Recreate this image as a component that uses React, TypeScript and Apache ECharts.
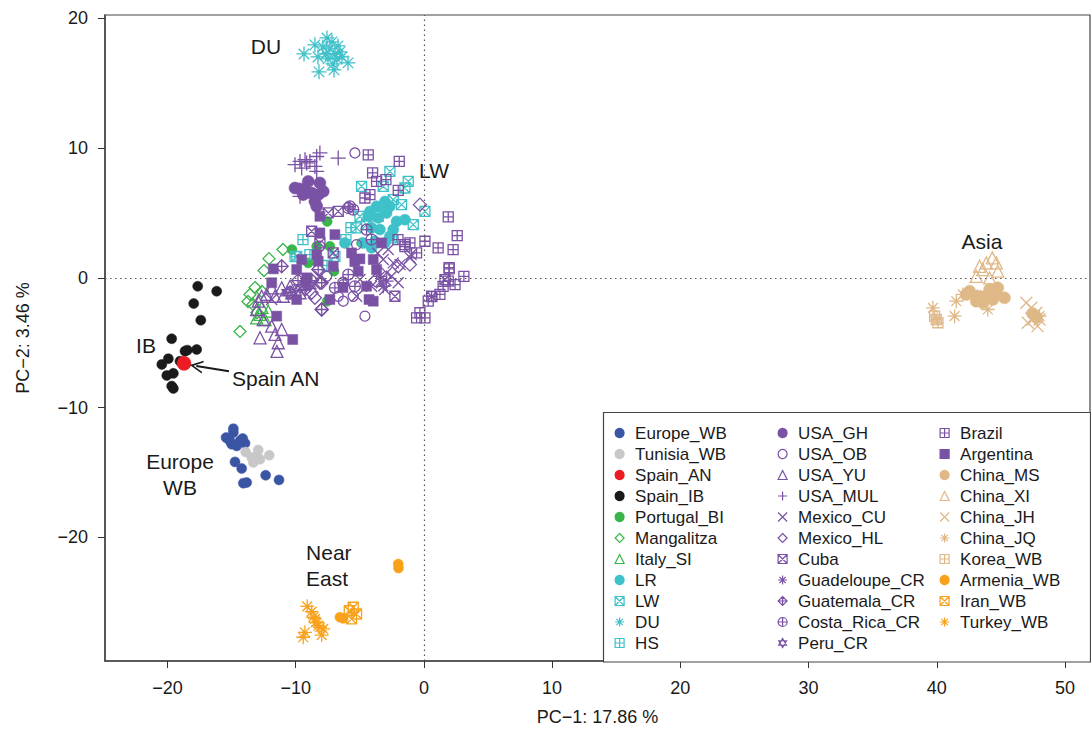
import { useEffect, useRef } from 'react';
import * as echarts from 'echarts';

// ---------- data (PC-1, PC-2) ----------
const europeWB = [[-14.86,-11.62],[-15.43,-12.31],[-14.86,-11.92],[-14.13,-12.38],[-14.99,-12.82],[-14.6,-12.95],[-13.95,-12.75],[-14.73,-14.18],[-14.21,-14.69],[-14.08,-15.82],[-13.82,-15.77],[-12.34,-15.21],[-11.3,-15.57],[-15.12,-12.57],[-14.34,-12.57]];
const tunisiaWB = [[-13.9,-13.42],[-12.92,-13.26],[-13.04,-13.72],[-13.3,-14.23],[-12.06,-13.67],[-13.43,-13.85],[-12.78,-13.98]];
const spainAN = [[-18.71,-6.59]];
const spainIB = [[-17.64,-0.65],[-16.16,-1.03],[-17.95,-1.98],[-17.4,-3.26],[-19.67,-4.69],[-18.45,-5.57],[-17.72,-5.52],[-18.63,-5.65],[-19.93,-6.23],[-20.44,-6.67],[-19.02,-6.42],[-19.54,-7.36],[-20.05,-7.52],[-19.67,-8.34],[-19.54,-8.52]];
const portugalBI = [[-7.54,4.35],[-7.33,2.43],[-9.02,1.15],[-9.2,-0.38],[-7.01,0.51],[-4.86,2.69],[-7.54,-1.8],[-8.36,2.43],[-10.29,2.18]];
const mangalitza = [[-10.99,2.18],[-12.08,1.48],[-12.47,0.56],[-13.17,-0.75],[-13.56,-1.28],[-13.72,-1.82],[-13.33,-2.05],[-13.02,-2.67],[-14.34,-4.13],[-12.63,-1.05]];
const italySI = [[-13.04,-3.08],[-12.39,-3.21],[-12.78,-2.82],[-12.14,-2.57],[-12.63,-2.28]];
const lr = [[-4.21,5.12],[-3.69,5.51],[-3.04,5.89],[-2.65,5.51],[-2.13,4.35],[-1.48,4.48],[-3.56,4.62],[-2.91,5.0],[-4.08,3.85],[-3.43,3.72],[-2.65,3.2],[-3.82,2.82],[-4.73,2.69],[-6.16,2.69],[-4.08,2.31],[-3.04,2.69],[-2.39,3.72],[-4.34,4.74],[-3.17,5.38]];
const lw = [[-2.65,8.2],[-1.22,7.43],[-4.86,7.05],[-3.17,7.05],[-1.48,6.92],[-4.99,4.74],[-3.56,4.74],[-1.74,5.64],[-0.83,4.1],[0.08,5.12],[-5.25,3.85],[-6.94,1.66],[-9.92,1.66],[-2.52,3.08],[-4.47,4.1],[-2.39,6.02]];
const du = [[-9.35,17.25],[-8.5,17.95],[-7.56,18.48],[-8.18,15.87],[-8.26,17.02],[-7.33,17.64],[-6.94,17.25],[-6.55,17.41],[-5.92,16.56],[-7.09,16.48],[-7.48,16.87],[-7.87,17.79],[-6.78,16.87],[-7.17,18.18],[-6.7,17.87],[-7.64,17.25],[-7.01,16.02],[-6.39,17.02]];
const hs = [[-9.43,2.95],[-10.05,1.64],[-6.08,2.95],[-7.56,0.95],[-8.89,1.79],[-5.69,3.87]];
const usaGH = [[-10.05,6.92],[-9.66,6.85],[-9.02,7.43],[-8.11,7.31],[-8.75,6.54],[-8.24,6.41],[-7.85,6.66],[-8.5,5.89],[-8.36,5.51],[-9.14,6.58],[-9.41,6.41]];
const usaOB = [[-5.38,9.62],[-4.6,-2.95],[-6.29,-1.8],[-6.68,-1.42],[-5.51,-1.42],[-5.25,2.56],[-8.11,2.43],[-7.58,0.12],[-6.29,-0.52]];
const usaYU = [[-12.78,-4.62],[-11.61,-4.36],[-11.36,-5.0],[-11.09,-3.98],[-11.87,-3.72],[-12.53,-3.21],[-13.04,-2.44],[-12.26,-1.28],[-11.61,-1.42],[-10.97,-1.42],[-10.31,-1.15],[-12.65,-1.42],[-11.87,-0.77],[-11.09,-0.77],[-10.44,-0.65],[-12.92,-1.8],[-9.66,-1.15],[-11.46,-5.67]];
const usaMUL = [[-10.05,8.72],[-9.66,8.97],[-9.27,9.1],[-8.89,8.97],[-8.36,9.35],[-8.11,9.62],[-8.5,8.58],[-8.36,8.2],[-6.68,9.23],[-9.66,6.28],[-9.14,8.85],[-9.53,8.46]];
const mexicoCU = [[-2.78,2.18],[-3.17,1.41],[-2.39,1.15],[-2.91,0.38],[-3.3,-0.38],[-4.08,-0.65],[-3.04,-0.9],[-2.52,0.12],[-2.0,-0.38],[-5.25,-1.42],[-11.87,-1.67],[-8.11,0.12],[-1.0,1.8],[-3.6,1.9],[-1.86,1.02],[-1.08,1.56],[-4.98,-0.13]];
const mexicoHL = [[-0.31,5.64],[-1.09,1.02],[-2.0,0.89],[-7.97,-2.44],[-8.75,-1.15],[-8.5,-1.54],[-8.11,-0.38],[-3.8,-0.2]];
const cuba = [[-7.46,5.0],[-6.68,5.12],[-8.75,3.59],[-8.11,2.69],[-7.07,1.92],[-2.26,-1.42],[1.64,-0.13],[0.62,-1.44]];
const guadeloupeCR = [[-3.17,-0.65],[-2.91,-0.26],[-3.43,0.12]];
const guatemalaCR = [[-11.09,0.89],[-7.97,-0.38],[-7.97,-2.44],[-8.24,0.64],[-9.27,-0.9],[-9.82,-0.21],[-10.44,-1.13],[-8.73,-0.21]];
const costaRicaCR = [[-5.9,5.38],[-5.51,5.25],[-4.47,3.72],[-4.08,2.95],[-5.9,0.25],[-6.29,-0.38],[-5.38,-0.65],[-6.94,-0.77],[-5.77,5.51]];
const peruCR = [[-10.6,-1.15],[-9.66,-0.75],[-8.89,-0.59]];
const brazil = [[-4.34,9.48],[-1.92,8.97],[-4.0,8.08],[-2.96,7.56],[-2.0,6.74],[-3.69,7.43],[-4.6,6.15],[-4.21,6.41],[1.9,4.69],[2.6,3.25],[2.28,2.18],[1.97,0.69],[3.12,0.12],[1.11,2.31],[0.08,2.82],[-1.09,2.69],[-0.57,1.92],[0.6,-1.42],[1.25,-1.28],[-0.31,-2.69],[-0.57,-3.08],[0.08,-3.08],[0.34,-1.8],[1.9,-0.26],[1.5,-0.65],[-1.48,2.56],[-2.02,2.95],[-1.48,2.41],[1.97,0.79],[2.43,-0.52]];
const argentina = [[-11.74,0.69],[-11.87,-0.38],[-9.92,-1.67],[-9.2,-0.38],[-11.48,-2.95],[-10.23,-4.75],[-8.11,3.46],[-6.94,3.33],[-5.64,1.92],[-4.99,1.46],[-3.95,1.41],[-5.12,0.51],[-3.69,0.64],[-3.3,2.69],[-4.47,-0.65],[-3.95,-1.8],[-7.07,0.89],[-8.36,1.79],[-9.53,1.41],[-9.92,0.64],[-8.11,4.74],[-8.24,1.28],[-9.14,0.0],[-7.33,-1.67],[-6.31,-0.75],[-5.39,1.25],[-4.28,-1.67]];
const chinaMS = [[42.56,-1.03],[43.34,-1.42],[44.12,-0.9],[44.76,-0.77],[45.28,-1.54],[44.37,-1.67],[43.59,-1.92],[43.08,-1.8],[44.64,-1.28],[43.86,-1.42],[42.3,-1.28],[47.47,-2.75],[47.78,-3.05]];
const chinaXI = [[43.34,0.89],[43.86,1.15],[44.33,1.54],[44.64,1.15],[44.76,0.51],[43.08,0.12],[44.12,0.0],[43.59,0.64]];
const chinaJH = [[46.98,-1.92],[47.37,-2.31],[47.76,-2.69],[47.1,-3.46],[48.01,-3.21],[47.49,-3.21],[47.86,-3.72]];
const chinaJQ = [[39.7,-2.31],[41.39,-2.95],[41.52,-1.8],[42.03,-1.28],[43.98,-2.44],[42.81,-1.28],[48.01,-2.95]];
const koreaWB = [[39.96,-3.21],[40.09,-3.46],[39.83,-2.95]];
const armeniaWB = [[-6.55,-26.15],[-6.29,-26.23],[-2.0,-22.05],[-1.98,-22.36]];
const iranWB = [[-5.51,-25.38],[-5.25,-25.9],[-5.64,-26.28],[-5.82,-25.65]];
const turkeyWB = [[-9.1,-25.31],[-8.75,-25.72],[-8.63,-26.15],[-8.42,-26.54],[-8.11,-26.92],[-7.85,-27.05],[-7.97,-27.52],[-9.28,-27.31],[-9.41,-27.69],[-8.24,-26.8],[-8.5,-26.28]];

const xTicks = [-20, -10, 0, 10, 20, 30, 40, 50];
const yTicks = [-20, -10, 0, 10, 20];

const annotations = [
  { text: 'DU', x: -12.31, y: 17.82, align: 'center' },
  { text: 'LW', x: 0.79, y: 8.25, align: 'center' },
  { text: 'Asia', x: 43.52, y: 2.79, align: 'center' },
  { text: 'IB', x: -21.67, y: -5.21, align: 'center' },
  { text: 'Spain AN', x: -14.97, y: -7.75, align: 'left' },
  { text: 'Europe\nWB', x: -19.02, y: -15.13, align: 'center' },
  { text: 'Near\nEast', x: -9.19, y: -22.13, align: 'left' },
];
const arrowFrom = [-15.2, -7.2];
const arrowTo = [-17.75, -6.8];

// ---------- styles ----------
const FONT = 'Liberation Sans, Arial, Helvetica, sans-serif';
const C = {
  blue: '#3a55a4', gray: '#c8c8c8', red: '#ed1c24', black: '#1a1a1a', green: '#3ab54a',
  teal: '#3fc1c9', purple: '#7a52a5', tan: '#dfb887', orange: '#f8a21c',
};
const S = {
  circle: 'circle',
  rect: 'rect',
  tri: 'triangle',
  diamond: 'diamond',
  boxX: 'path://M-1,-1L1,-1L1,1L-1,1ZM-1,-1L1,1M-1,1L1,-1',
  boxPlus: 'path://M-1,-1L1,-1L1,1L-1,1ZM0,-1L0,1M-1,0L1,0',
  plus: 'path://M0,-1L0,1M-1,0L1,0',
  cross: 'path://M-1,-1L1,1M-1,1L1,-1',
  aster: 'path://M0,-1L0,1M-1,0L1,0M-0.7,-0.7L0.7,0.7M-0.7,0.7L0.7,-0.7',
  diamondPlus: 'path://M0,-1L1,0L0,1L-1,0ZM0,-1L0,1M-1,0L1,0',
  circlePlus: 'path://M-1,0A1,1,0,1,1,1,0A1,1,0,1,1,-1,0ZM0,-1L0,1M-1,0L1,0',
  star6: 'path://M0,-1L0.866,0.5L-0.866,0.5ZM0,1L0.866,-0.5L-0.866,-0.5Z',
};

type G = { name: string; data: number[][]; symbol: string; color: string; filled: boolean; size: number };
const groups: G[] = [
  { name: 'Europe_WB', data: europeWB, symbol: S.circle, color: C.blue, filled: true, size: 10 },
  { name: 'Tunisia_WB', data: tunisiaWB, symbol: S.circle, color: C.gray, filled: true, size: 10 },
  { name: 'Spain_IB', data: spainIB, symbol: S.circle, color: C.black, filled: true, size: 10 },
  { name: 'Portugal_BI', data: portugalBI, symbol: S.circle, color: C.green, filled: true, size: 10 },
  { name: 'Mangalitza', data: mangalitza, symbol: S.diamond, color: C.green, filled: false, size: 12 },
  { name: 'Italy_SI', data: italySI, symbol: S.tri, color: C.green, filled: false, size: 12 },
  { name: 'LR', data: lr, symbol: S.circle, color: C.teal, filled: true, size: 11 },
  { name: 'LW', data: lw, symbol: S.boxX, color: C.teal, filled: false, size: 10 },
  { name: 'DU', data: du, symbol: S.aster, color: C.teal, filled: false, size: 15 },
  { name: 'HS', data: hs, symbol: S.boxPlus, color: C.teal, filled: false, size: 10 },
  { name: 'USA_GH', data: usaGH, symbol: S.circle, color: C.purple, filled: true, size: 12 },
  { name: 'USA_OB', data: usaOB, symbol: S.circle, color: C.purple, filled: false, size: 10 },
  { name: 'USA_YU', data: usaYU, symbol: S.tri, color: C.purple, filled: false, size: 12 },
  { name: 'USA_MUL', data: usaMUL, symbol: S.plus, color: C.purple, filled: false, size: 15 },
  { name: 'Mexico_CU', data: mexicoCU, symbol: S.cross, color: C.purple, filled: false, size: 11 },
  { name: 'Mexico_HL', data: mexicoHL, symbol: S.diamond, color: C.purple, filled: false, size: 13 },
  { name: 'Cuba', data: cuba, symbol: S.boxX, color: C.purple, filled: false, size: 10 },
  { name: 'Guadeloupe_CR', data: guadeloupeCR, symbol: S.aster, color: C.purple, filled: false, size: 14 },
  { name: 'Guatemala_CR', data: guatemalaCR, symbol: S.diamondPlus, color: C.purple, filled: false, size: 13 },
  { name: 'Costa_Rica_CR', data: costaRicaCR, symbol: S.circlePlus, color: C.purple, filled: false, size: 11 },
  { name: 'Peru_CR', data: peruCR, symbol: S.star6, color: C.purple, filled: false, size: 12 },
  { name: 'Brazil', data: brazil, symbol: S.boxPlus, color: C.purple, filled: false, size: 10 },
  { name: 'Argentina', data: argentina, symbol: S.rect, color: C.purple, filled: true, size: 10 },
  { name: 'China_MS', data: chinaMS, symbol: S.circle, color: C.tan, filled: true, size: 12 },
  { name: 'China_XI', data: chinaXI, symbol: S.tri, color: C.tan, filled: false, size: 12 },
  { name: 'China_JH', data: chinaJH, symbol: S.cross, color: C.tan, filled: false, size: 12 },
  { name: 'China_JQ', data: chinaJQ, symbol: S.aster, color: C.tan, filled: false, size: 14 },
  { name: 'Korea_WB', data: koreaWB, symbol: S.boxPlus, color: C.tan, filled: false, size: 10 },
  { name: 'Armenia_WB', data: armeniaWB, symbol: S.circle, color: C.orange, filled: true, size: 10 },
  { name: 'Iran_WB', data: iranWB, symbol: S.boxX, color: C.orange, filled: false, size: 10 },
  { name: 'Turkey_WB', data: turkeyWB, symbol: S.aster, color: C.orange, filled: false, size: 14 },
  { name: 'Spain_AN', data: spainAN, symbol: S.circle, color: C.red, filled: true, size: 14 },
];

const legendCols = [
  ['Europe_WB', 'Tunisia_WB', 'Spain_AN', 'Spain_IB', 'Portugal_BI', 'Mangalitza', 'Italy_SI', 'LR', 'LW', 'DU', 'HS'],
  ['USA_GH', 'USA_OB', 'USA_YU', 'USA_MUL', 'Mexico_CU', 'Mexico_HL', 'Cuba', 'Guadeloupe_CR', 'Guatemala_CR', 'Costa_Rica_CR', 'Peru_CR'],
  ['Brazil', 'Argentina', 'China_MS', 'China_XI', 'China_JH', 'China_JQ', 'Korea_WB', 'Armenia_WB', 'Iran_WB', 'Turkey_WB'],
];
const legendLefts = [614.5, 777.5, 939.5];

const minus = (v: number) => String(v).replace('-', '\u2212');
const chevron = 'path://M0,10L5,0L10,10L8.6,10L5,2.8L1.4,10Z';

export default function App() {
  const ref = useRef<HTMLDivElement>(null);
  useEffect(() => {
    if (!ref.current) return;
    const chart = echarts.init(ref.current, null, { renderer: 'svg' });
    const series: any[] = [
      {
        type: 'scatter', name: '__ref', data: [], silent: true, z: 1,
        markLine: {
          silent: true, symbol: 'none', animation: false,
          label: { show: false },
          lineStyle: { type: [1.5, 3.5], color: '#555', width: 1.2 },
          data: [{ xAxis: 0 }, { yAxis: 0 }],
        },
      },
      ...groups.map((g) => ({
        type: 'scatter', name: g.name, data: g.data, symbol: g.symbol, symbolSize: g.size, z: 2,
        itemStyle: g.filled
          ? { color: g.color, borderColor: g.color, borderWidth: 0.5, opacity: 1 }
          : { color: 'rgba(0,0,0,0)', borderColor: g.color, borderWidth: 1.3, opacity: 1 },
        emphasis: { disabled: true },
      })),
      {
        type: 'scatter', name: '__annot', z: 6, silent: true,
        symbolSize: 1, itemStyle: { color: '#fff', opacity: 1 },
        data: annotations.map((a) => ({
          name: a.text, value: [a.x, a.y],
          label: { align: a.align },
        })),
        label: {
          show: true, position: 'inside', formatter: '{b}', fontSize: 21, lineHeight: 26,
          color: '#1a1a1a', fontFamily: FONT, verticalAlign: 'middle',
          textBorderWidth: 0, opacity: 1,
        },
        markLine: {
          silent: true, animation: false,
          symbol: ['none', chevron], symbolSize: [13, 13],
          label: { show: false },
          lineStyle: { type: 'solid', color: '#1a1a1a', width: 2 },
          data: [[{ coord: arrowFrom }, { coord: arrowTo }]],
        },
      },
    ];
    chart.setOption({
      animation: false,
      backgroundColor: '#fff',
      grid: { left: 105, right: 1, top: 15, bottom: 69, show: true, borderColor: '#444', borderWidth: 1.2, backgroundColor: 'transparent' },
      xAxis: {
        type: 'value', min: -24.87, max: 51.95,
        name: 'PC\u22121: 17.86 %', nameLocation: 'middle', nameGap: 47,
        nameTextStyle: { fontSize: 18, color: '#1a1a1a', fontFamily: FONT },
        axisLine: { show: true, onZero: false, lineStyle: { color: '#444', width: 1.5 } },
        axisTick: { show: true, length: 7, lineStyle: { color: '#333', width: 1 }, customValues: xTicks },
        axisLabel: { fontSize: 18, color: '#1a1a1a', fontFamily: FONT, margin: 18, customValues: xTicks, formatter: (v: number) => minus(v) },
        splitLine: { show: false },
      },
      yAxis: {
        type: 'value', min: -29.52, max: 20.25,
        name: 'PC\u22122: 3.46 %', nameLocation: 'middle', nameGap: 73, nameRotate: 90,
        nameTextStyle: { fontSize: 18, color: '#1a1a1a', fontFamily: FONT },
        axisLine: { show: true, onZero: false, lineStyle: { color: '#444', width: 1.5 } },
        axisTick: { show: true, length: 7, lineStyle: { color: '#333', width: 1 }, customValues: yTicks },
        axisLabel: { fontSize: 18, color: '#1a1a1a', fontFamily: FONT, margin: 17, customValues: yTicks, formatter: (v: number) => minus(v) },
        splitLine: { show: false },
      },
      legend: legendCols.map((col, i) => ({
        data: col, orient: 'vertical', left: legendLefts[i], top: 423, padding: 0,
        itemWidth: 9, itemHeight: 9, itemGap: 1, symbolKeepAspect: true, selectedMode: false,
        itemStyle: { borderWidth: 1.2 },
        textStyle: { fontSize: 17, lineHeight: 20, color: '#1a1a1a', fontFamily: FONT, padding: [0, 0, 0, 6] },
        z: 6,
      })),
      graphic: [
        {
          type: 'rect', z: 5, silent: true,
          shape: { x: 603.5, y: 412.5, width: 487, height: 249.5 },
          style: { fill: '#fff', stroke: '#444', lineWidth: 1.2 },
        },
      ],
      series,
    });
    return () => chart.dispose();
  }, []);
  return <div ref={ref} style={{ position: 'fixed', left: 0, top: 0, width: 1091, height: 731, background: '#fff' }} />;
}
